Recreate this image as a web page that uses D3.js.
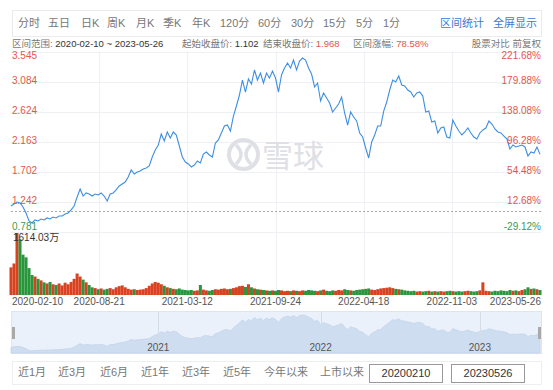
<!DOCTYPE html>
<meta charset="utf-8">
<style>
  body { margin: 0; background: #fff; }
  svg text { font-family: "Liberation Sans", "Noto Sans CJK SC", sans-serif; }
  .grid line { stroke: #eef0f4; stroke-width: 1; shape-rendering: crispEdges; }
</style>
<body>
<svg></svg>
<script src="https://cdn.jsdelivr.net/npm/d3@7"></script>
<script>

// closing price, sampled along the whole period
var prices = [
  1.176, 1.207, 1.237, 1.222, 1.161, 1.069, 0.946, 0.915, 0.961, 0.946,
  0.976, 0.961, 0.992, 0.976, 1.007, 0.992, 1.022, 1.022, 1.053, 1.069,
  1.115, 1.176, 1.314, 1.437, 1.329, 1.376, 1.360, 1.329, 1.360, 1.345,
  1.376, 1.329, 1.253, 1.360, 1.376, 1.422, 1.483, 1.514, 1.544, 1.621,
  1.729, 1.667, 1.698, 1.713, 1.744, 1.759, 1.790, 1.928, 2.036, 2.112,
  2.281, 2.174, 2.312, 2.220, 2.312, 2.266, 2.097, 1.928, 1.851, 1.821,
  1.775, 1.805, 1.867, 1.836, 1.974, 2.005, 1.959, 1.928, 2.143, 2.189,
  2.297, 2.404, 2.419, 2.327, 2.557, 2.711, 2.880, 3.110, 2.926, 3.125,
  3.049, 3.264, 3.110, 3.218, 3.064, 3.218, 3.141, 3.248, 3.141, 2.926,
  3.187, 3.294, 3.371, 3.294, 3.417, 3.264, 3.402, 3.448, 3.417, 3.294,
  3.202, 3.003, 3.064, 2.788, 2.911, 2.834, 2.757, 2.619, 2.680, 2.742,
  2.849, 2.604, 2.419, 2.619, 2.542, 2.481, 2.297, 2.235, 2.066, 1.913,
  2.158, 2.266, 2.404, 2.404, 2.634, 2.772, 2.957, 3.110, 3.079, 3.172,
  3.033, 3.018, 2.957, 2.926, 2.849, 2.911, 2.926, 2.864, 2.619, 2.634,
  2.465, 2.481, 2.297, 2.373, 2.389, 2.235, 2.220, 2.496, 2.404, 2.327,
  2.266, 2.312, 2.373, 2.297, 2.235, 2.204, 2.297, 2.343, 2.373, 2.481,
  2.435, 2.358, 2.312, 2.297, 2.250, 2.204, 2.051, 2.112, 2.082, 2.097,
  2.112, 2.082, 1.943, 2.005, 1.990, 2.082, 1.968
];

// volume in 万
var volumes = [
  720, 820, 1614, 1450, 1050, 980, 700, 520, 480, 420,
  380, 330, 300, 340, 280, 260, 300, 250, 320, 280,
  340, 420, 560, 480, 400, 330, 260, 200, 180, 150,
  170, 140, 160, 180, 150, 200, 230, 250, 200, 160,
  140, 150, 130, 140, 150, 180, 240, 300, 340, 320,
  280, 240, 200, 180, 160, 150, 170, 140, 130, 120,
  130, 110, 120, 260, 140, 120, 110, 130, 150, 140,
  160, 170, 150, 160, 180, 200, 230, 240, 210, 280,
  200, 170, 150, 140, 130, 120, 110, 120, 110, 130,
  120, 100, 110, 100, 120, 110, 100, 120, 110, 130,
  120, 110, 100, 120, 140, 110, 100, 120, 110, 130,
  120, 150, 130, 120, 110, 130, 140, 150, 160, 170,
  140, 130, 150, 170, 180, 190, 200, 180, 160, 150,
  140, 120, 110, 100, 110, 90, 100, 90, 100, 110,
  90, 100, 90, 100, 90, 100, 110, 100, 90, 100,
  90, 100, 110, 100, 90, 100, 120, 330, 110, 100,
  90, 110, 100, 120, 110, 100, 130, 110, 120, 100,
  130, 150, 200, 160, 170, 150, 130
];

var basePrice = 1.102;
var maxVolumeLabel = '1614.03万';
var priceTicks = [3.545, 3.084, 2.624, 2.163, 1.702, 1.242, 0.781];
var pctTicks = ['221.68%', '179.88%', '138.08%', '96.28%', '54.48%', '12.68%', '-29.12%'];
var dateLabels = ['2020-02-10', '2020-08-21', '2021-03-12', '2021-09-24', '2022-04-18', '2022-11-03', '2023-05-26'];
var years = ['2021', '2022', '2023'];
var yearIndex = [49, 103, 156];
var periods = ['分时', '五日', '日K', '周K', '月K', '季K', '年K', '120分', '60分', '30分', '15分', '5分', '1分'];
var periodX = [18, 48, 81, 107, 136, 163, 192, 220, 258, 291, 323, 356, 383];
var ranges = ['近1月', '近3月', '近6月', '近1年', '近3年', '近5年', '今年以来', '上市以来'];
var rangeX = [18, 58, 100, 141, 182, 223, 264, 320];
var inputDates = ['20200210', '20230526'];

var W = 553, H = 390;
var red = '#e2574c', green = '#3a9c50', gray = '#777', dark = '#333', blue = '#3d7ad6';

var svg = d3.select('svg').attr('width', W).attr('height', H);

var x = d3.scaleLinear().domain([0, prices.length - 1]).range([11, 540]);
var y = d3.scaleLinear().domain([0.781, 3.545]).range([231.7, 51.7]);
var yv = d3.scaleLinear().domain([0, 1614.03]).range([295, 233]);

// top toolbar
svg.append('rect')
    .attr('x', 12.5).attr('y', 10.5).attr('width', 529).attr('height', 26)
    .attr('fill', '#fff').attr('stroke', '#ebebeb');

svg.append('g').selectAll('text')
    .data(periods)
    .enter().append('text')
    .attr('x', function(d, i) { return periodX[i]; })
    .attr('y', 24).attr('dominant-baseline', 'middle')
    .attr('font-size', 11).attr('fill', gray)
    .text(function(d) { return d; });

svg.append('text').attr('x', 440).attr('y', 24).attr('dominant-baseline', 'middle')
    .attr('font-size', 11).attr('fill', blue).text('区间统计');
svg.append('text').attr('x', 493).attr('y', 24).attr('dominant-baseline', 'middle')
    .attr('font-size', 11).attr('fill', blue).text('全屏显示');

// summary line
var info = svg.append('text').attr('x', 12).attr('y', 44)
    .attr('dominant-baseline', 'middle').attr('font-size', 9.5).attr('fill', gray);
info.append('tspan').text('区间范围: ');
info.append('tspan').attr('fill', dark).text(dateLabels[0] + ' ~ ' + dateLabels[6]);
info.append('tspan').attr('x', 182).text('起始收盘价: ');
info.append('tspan').attr('fill', dark).text(basePrice.toFixed(3));
info.append('tspan').attr('x', 263).text('结束收盘价: ');
info.append('tspan').attr('fill', red).text(prices[prices.length - 1].toFixed(3));
info.append('tspan').attr('x', 353).text('区间涨幅: ');
info.append('tspan').attr('fill', red).text('78.58%');
svg.append('text').attr('x', 541).attr('y', 44).attr('text-anchor', 'end')
    .attr('dominant-baseline', 'middle').attr('font-size', 9.5).attr('fill', gray)
    .text('股票对比  前复权');

// grid
var grid = svg.append('g').attr('class', 'grid');
grid.selectAll('line.h')
    .data(priceTicks)
    .enter().append('line')
    .attr('x1', 11).attr('x2', 541)
    .attr('y1', function(d) { return Math.round(y(d)) + 0.5; })
    .attr('y2', function(d) { return Math.round(y(d)) + 0.5; });
grid.selectAll('line.v')
    .data(d3.range(1, 6))
    .enter().append('line')
    .attr('x1', function(d) { return Math.round(x(d * (prices.length - 1) / 6)) + 0.5; })
    .attr('x2', function(d) { return Math.round(x(d * (prices.length - 1) / 6)) + 0.5; })
    .attr('y1', 51).attr('y2', 296);

// watermark
var wm = svg.append('g').attr('fill', 'none').attr('stroke', '#dfe0e5').attr('stroke-width', 4);
wm.append('circle').attr('cx', 243.5).attr('cy', 154.5).attr('r', 14.5);
wm.append('path').attr('d', 'M236,145 Q246,154.5 236,164').attr('stroke-width', 3.5);
wm.append('path').attr('d', 'M251,145 Q241,154.5 251,164').attr('stroke-width', 3.5);
svg.append('text').attr('x', 262).attr('y', 167).attr('font-size', 31)
    .attr('fill', '#dfe0e5').attr('font-family', 'Noto Sans CJK SC').text('雪球');

// volume bars
var bw = x(1) - x(0);
svg.append('g').selectAll('rect')
    .data(volumes)
    .enter().append('rect')
    .attr('x', function(d, i) { return x(i) - bw / 2; })
    .attr('width', bw)
    .attr('y', function(d) { return yv(d); })
    .attr('height', function(d) { return yv(0) - yv(d); })
    .attr('fill', function(d, i) { return i > 0 && prices[i] < prices[i - 1] ? '#2a963c' : '#d8421f'; });

// start price dashed line
svg.append('line')
    .attr('x1', 11).attr('x2', 541)
    .attr('y1', Math.round(y(basePrice)) + 0.5).attr('y2', Math.round(y(basePrice)) + 0.5)
    .attr('stroke', '#aaa').attr('stroke-dasharray', '2,2');

// price line
svg.append('path')
    .datum(prices)
    .attr('fill', 'none')
    .attr('stroke', '#3e8ee3')
    .attr('stroke-width', 1.1)
    .attr('d', d3.line().x(function(d, i) { return x(i); }).y(function(d) { return y(d); }));

// price axis labels
svg.append('g').selectAll('text')
    .data(priceTicks)
    .enter().append('text')
    .attr('x', 12)
    .attr('y', function(d, i) { return y(d) + (i === 0 ? 5 : i === priceTicks.length - 1 ? -4 : 0); })
    .attr('dominant-baseline', 'middle')
    .attr('font-size', 10)
    .attr('fill', function(d) { return d < basePrice ? green : red; })
    .text(function(d) { return d.toFixed(3); });

svg.append('g').selectAll('text')
    .data(pctTicks)
    .enter().append('text')
    .attr('x', 541)
    .attr('y', function(d, i) { return y(priceTicks[i]) + (i === 0 ? 5 : i === priceTicks.length - 1 ? -4 : 0); })
    .attr('text-anchor', 'end')
    .attr('dominant-baseline', 'middle')
    .attr('font-size', 10)
    .attr('fill', function(d) { return d.charAt(0) === '-' ? green : red; })
    .text(function(d) { return d; });

svg.append('text').attr('x', 13).attr('y', 238).attr('dominant-baseline', 'middle')
    .attr('font-size', 10).attr('fill', dark).text(maxVolumeLabel);

// date labels
svg.append('g').selectAll('text')
    .data(dateLabels)
    .enter().append('text')
    .attr('x', function(d, i) { return i === 0 ? 12 : i === 6 ? 541 : x(i * (prices.length - 1) / 6); })
    .attr('y', 302)
    .attr('dominant-baseline', 'middle')
    .attr('text-anchor', function(d, i) { return i === 0 ? 'start' : i === 6 ? 'end' : 'middle'; })
    .attr('font-size', 10)
    .attr('fill', '#555')
    .text(function(d) { return d; });

// navigator
var ny = d3.scaleLinear().domain([d3.min(prices), d3.max(prices)]).range([351, 315]);
svg.append('rect').attr('x', 11.5).attr('y', 311.5).attr('width', 530).attr('height', 42)
    .attr('fill', '#eaf1fb').attr('stroke', '#dde5f0');
svg.append('path')
    .datum(prices)
    .attr('fill', '#cfddf1')
    .attr('stroke', '#c3d3ea')
    .attr('stroke-width', 0.8)
    .attr('d', d3.area().x(function(d, i) { return x(i); }).y0(353).y1(function(d) { return ny(d); }));
svg.append('g').selectAll('line')
    .data(yearIndex)
    .enter().append('line')
    .attr('x1', function(d) { return Math.round(x(d)) + 0.5; })
    .attr('x2', function(d) { return Math.round(x(d)) + 0.5; })
    .attr('y1', 312).attr('y2', 353)
    .attr('stroke', '#d3dce9');
svg.append('g').selectAll('text')
    .data(years)
    .enter().append('text')
    .attr('x', function(d, i) { return x(yearIndex[i]); })
    .attr('y', 348)
    .attr('text-anchor', 'middle')
    .attr('dominant-baseline', 'middle')
    .attr('font-size', 10)
    .attr('fill', '#555')
    .text(function(d) { return d; });
svg.append('rect').attr('x', 12).attr('y', 327).attr('width', 3).attr('height', 12).attr('fill', '#a9a9a9');
svg.append('rect').attr('x', 538).attr('y', 327).attr('width', 3).attr('height', 12).attr('fill', '#a9a9a9');

// range bar
svg.append('rect').attr('x', 12.5).attr('y', 361.5).attr('width', 529).attr('height', 23)
    .attr('fill', '#fff').attr('stroke', '#eeeeee');
svg.append('g').selectAll('text')
    .data(ranges)
    .enter().append('text')
    .attr('x', function(d, i) { return rangeX[i]; })
    .attr('y', 373)
    .attr('dominant-baseline', 'middle')
    .attr('font-size', 11)
    .attr('fill', gray)
    .text(function(d) { return d; });
var boxes = svg.append('g').selectAll('g')
    .data(inputDates)
    .enter().append('g')
    .attr('transform', function(d, i) { return 'translate(' + (i === 0 ? 369.5 : 451.5) + ',364.5)'; });
boxes.append('rect').attr('width', 73).attr('height', 18).attr('fill', '#fff').attr('stroke', '#999');
boxes.append('text').attr('x', 36.5).attr('y', 9.5)
    .attr('text-anchor', 'middle').attr('dominant-baseline', 'middle')
    .attr('font-size', 11).attr('fill', dark)
    .text(function(d) { return d; });

</script>
